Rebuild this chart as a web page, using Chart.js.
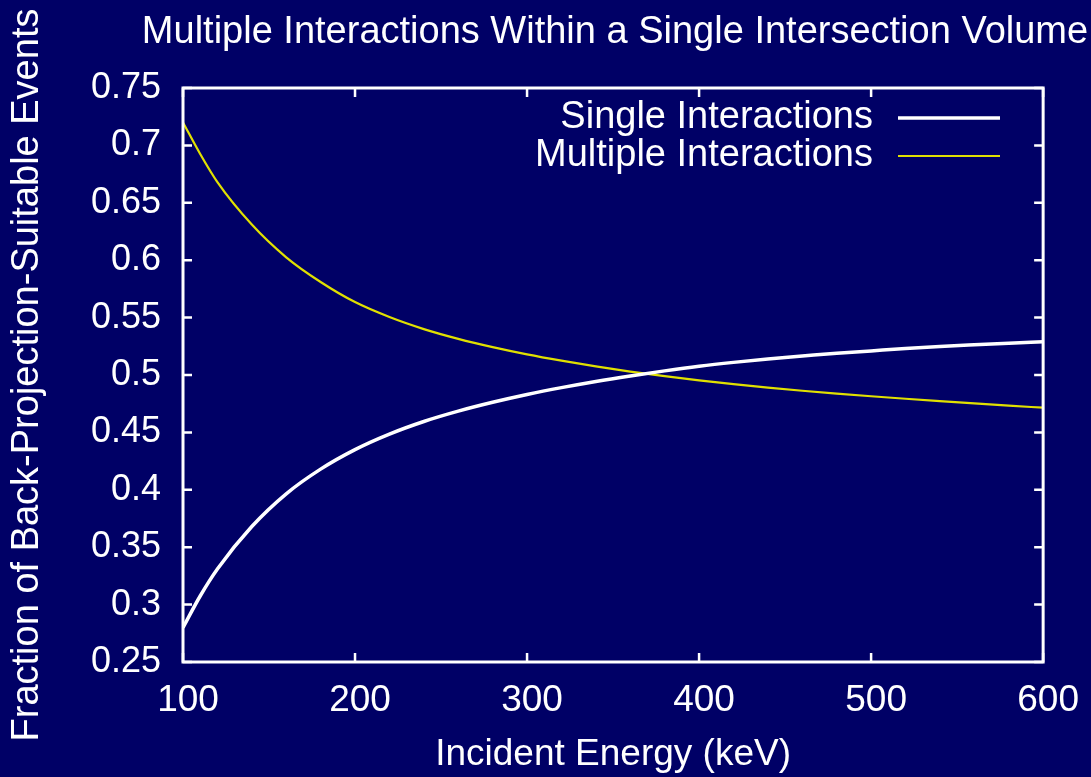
<!DOCTYPE html>
<html>
<head>
<meta charset="utf-8">
<script src="https://cdn.jsdelivr.net/npm/chart.js@4.4.1/dist/chart.umd.min.js"></script>
<style>
  html, body { margin: 0; padding: 0; background: #000066; }
  #wrap { width: 1091px; height: 777px; }
</style>
</head>
<body>
<div id="wrap"><canvas id="c" width="1091" height="777"></canvas></div>
<script>
// ---- data ----
const energies = [100, 110, 120, 140, 160, 180, 200, 220, 240, 260, 280, 300, 320, 340, 360, 380, 400, 420, 440, 460, 480, 500, 520, 540, 560, 580, 600];
const singleInteractions   = [0.280, 0.3075, 0.331, 0.368, 0.3965, 0.418, 0.435, 0.4485, 0.4595, 0.4685, 0.4762, 0.4830, 0.4890, 0.4944, 0.4992, 0.5036, 0.5076, 0.511, 0.514, 0.5165, 0.519, 0.521, 0.523, 0.5248, 0.5263, 0.5277, 0.529];
const multipleInteractions = [0.720, 0.6925, 0.668, 0.631, 0.6025, 0.581, 0.5635, 0.5505, 0.5400, 0.5315, 0.5243, 0.5180, 0.5125, 0.5075, 0.5030, 0.4990, 0.4953, 0.4920, 0.4890, 0.4863, 0.4838, 0.4815, 0.4793, 0.4772, 0.4752, 0.4733, 0.4715];
const seriesNames = ['Single Interactions', 'Multiple Interactions'];
const chartTitle = 'Multiple Interactions Within a Single Intersection Volume';
const xTitle = 'Incident Energy (keV)';
const yTitle = 'Fraction of Back-Projection-Suitable Events';
const xTicks = [100, 200, 300, 400, 500, 600];
const yTicks = [0.25, 0.3, 0.35, 0.4, 0.45, 0.5, 0.55, 0.6, 0.65, 0.7, 0.75];

const BG = '#000066';
const WHITE = '#ffffff';
const YELLOW = '#e0e000';
const FONT = '"Liberation Sans", Arial, Helvetica, sans-serif';

const toPoints = (ys) => energies.map((x, i) => ({ x, y: ys[i] }));

const bgPlugin = {
  id: 'bg',
  beforeDraw(chart) {
    const ctx = chart.ctx;
    ctx.save();
    ctx.fillStyle = BG;
    ctx.fillRect(0, 0, chart.width, chart.height);
    ctx.restore();
  }
};

const framePlugin = {
  id: 'frame',
  afterDraw(chart) {
    const { ctx, chartArea: a, scales } = chart;
    ctx.save();
    ctx.strokeStyle = WHITE;
    ctx.lineWidth = 2.5;
    const tl = 9;
    ctx.beginPath();
    xTicks.forEach(v => {
      const px = scales.x.getPixelForValue(v);
      ctx.moveTo(px, a.bottom); ctx.lineTo(px, a.bottom - tl);
      ctx.moveTo(px, a.top); ctx.lineTo(px, a.top + tl);
    });
    yTicks.forEach(v => {
      const py = scales.y.getPixelForValue(v);
      ctx.moveTo(a.left, py); ctx.lineTo(a.left + tl, py);
      ctx.moveTo(a.right, py); ctx.lineTo(a.right - tl, py);
    });
    ctx.stroke();
    ctx.lineWidth = 3;
    ctx.strokeRect(a.left, a.top, a.right - a.left, a.bottom - a.top);

    // title
    ctx.fillStyle = WHITE;
    ctx.font = '38px ' + FONT;
    ctx.textAlign = 'center';
    ctx.textBaseline = 'middle';
    ctx.fillText(chartTitle, 615, 33);

    // legend
    const rows = [118, 156];
    chart.data.datasets.forEach((ds, i) => {
      const y = rows[i];
      ctx.textAlign = 'right';
      ctx.fillStyle = WHITE;
      ctx.fillText(ds.label, 873, y);
      ctx.strokeStyle = ds.borderColor;
      ctx.lineWidth = ds.borderWidth;
      ctx.beginPath();
      ctx.moveTo(898, y); ctx.lineTo(1000, y);
      ctx.stroke();
    });
    ctx.restore();
  }
};

new Chart(document.getElementById('c'), {
  type: 'line',
  data: {
    datasets: [
      { label: seriesNames[0], data: toPoints(singleInteractions), borderColor: WHITE, borderWidth: 3.5, pointRadius: 0, cubicInterpolationMode: 'monotone', fill: false },
      { label: seriesNames[1], data: toPoints(multipleInteractions), borderColor: YELLOW, borderWidth: 2.2, pointRadius: 0, cubicInterpolationMode: 'monotone', fill: false }
    ]
  },
  options: {
    responsive: false,
    animation: false,
    layout: { padding: { top: 88, right: 45, left: 0, bottom: 0 } },
    plugins: { legend: { display: false }, title: { display: false }, tooltip: { enabled: false } },
    scales: {
      x: {
        type: 'linear', min: 100, max: 600,
        afterBuildTicks: (s) => { s.ticks = xTicks.map(v => ({ value: v })); },
        afterFit: (s) => { s.height = 777 - 662; },
        grid: { display: false, drawTicks: false },
        border: { display: false },
        ticks: { color: WHITE, font: { size: 37, family: FONT }, padding: 17, labelOffset: 5, maxRotation: 0, autoSkip: false },
        title: { display: true, text: xTitle, color: WHITE, font: { size: 37, family: FONT }, padding: { top: 0, bottom: 0 } }
      },
      y: {
        type: 'linear', min: 0.25, max: 0.75,
        afterBuildTicks: (s) => { s.ticks = yTicks.map(v => ({ value: v })); },
        afterFit: (s) => { s.width = 183; },
        grid: { display: false, drawTicks: false },
        border: { display: false },
        ticks: { color: WHITE, font: { size: 36, family: FONT }, padding: 22, autoSkip: false, callback: (v) => String(+v.toFixed(2)) },
        title: { display: true, text: yTitle, color: WHITE, font: { size: 38, family: FONT }, padding: { top: 5, bottom: 0 } }
      }
    }
  },
  plugins: [bgPlugin, framePlugin]
});
</script>
</body>
</html>
